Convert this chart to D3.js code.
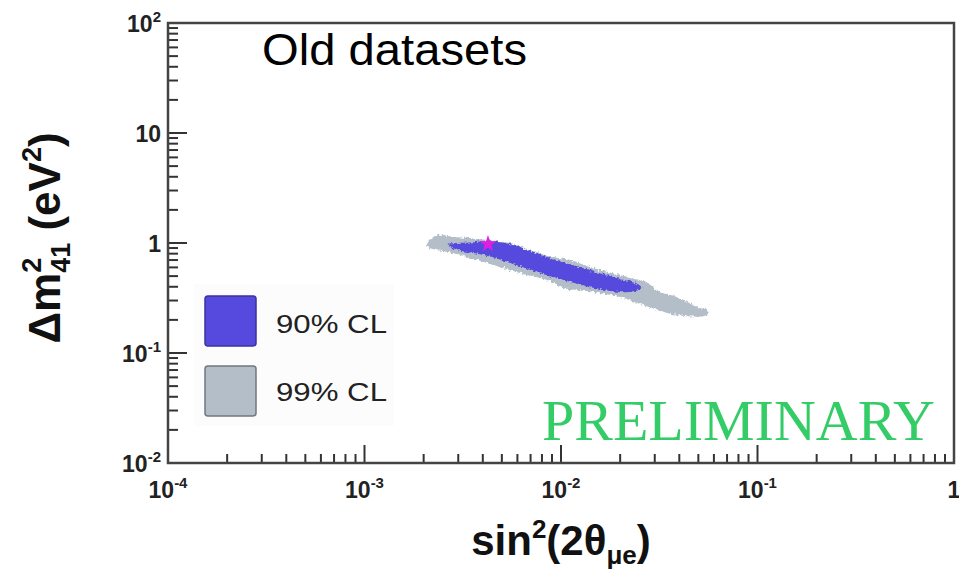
<!DOCTYPE html>
<html>
<head>
<meta charset="utf-8">
<script src="https://cdn.jsdelivr.net/npm/d3@7"></script>
<style>
  body { margin: 0; background: #fff; }
</style>
</head>
<body>
<div id="chart"></div>
<script>
// x decades and labels
var xMajor = [1e-4, 1e-3, 1e-2, 1e-1, 1];
var xLabels = [["10", "-4"], ["10", "-3"], ["10", "-2"], ["10", "-1"], ["1", ""]];
// y decades and labels
var yMajor = [1e-2, 1e-1, 1, 10, 100];
var yLabels = [["10", "-2"], ["10", "-1"], ["1", ""], ["10", ""], ["10", "2"]];

// 99% CL contour [sin^2(2theta), dm^2]
var cl99 = [
  [0.00208, 0.96], [0.00234, 1.18], [0.00282, 1.135], [0.00344, 1.11],
  [0.0042, 1.065], [0.00549, 1.0], [0.00695, 0.863], [0.0091, 0.746],
  [0.0111, 0.70], [0.01456, 0.593], [0.0217, 0.491], [0.0274, 0.433],
  [0.0319, 0.359], [0.0389, 0.323], [0.0509, 0.256], [0.0553, 0.246],
  [0.0553, 0.221], [0.0389, 0.221], [0.0261, 0.273], [0.02, 0.323],
  [0.01456, 0.359], [0.00989, 0.398], [0.0091, 0.442], [0.00618, 0.533],
  [0.0042, 0.658], [0.00282, 0.81], [0.00215, 0.90]
];
// 90% CL contour
var cl90 = [
  [0.00265, 0.97], [0.00344, 1.01], [0.0042, 1.03], [0.00531, 0.99],
  [0.00671, 0.87], [0.0091, 0.71], [0.0111, 0.64], [0.01456, 0.555],
  [0.02, 0.47], [0.0248, 0.42], [0.0256, 0.39], [0.0217, 0.357],
  [0.01456, 0.392], [0.0111, 0.445], [0.0091, 0.49], [0.00618, 0.615],
  [0.0042, 0.765], [0.00282, 0.89]
];
// best fit point
var bestFit = [0.00425, 0.98];

var legendItems = ["90% CL", "99% CL"];
var colors = { cl90: "#5549de", cl99: "#b3bec9", best: "#e01ee0" };

var W = 959, H = 570;
var plot = { left: 168, right: 954, top: 23, bottom: 463 };
var sans = "'Liberation Sans', Arial, sans-serif";
var serif = "'Liberation Serif', 'Times New Roman', serif";

var svg = d3.select("#chart").append("svg")
  .attr("width", W).attr("height", H)
  .style("font-family", sans);

var x = d3.scaleLog().domain([1e-4, 1]).range([plot.left, plot.right]);
var y = d3.scaleLog().domain([1e-2, 1e2]).range([plot.bottom, plot.top]);

// ragged edge filter
var defs = svg.append("defs");
var f = defs.append("filter").attr("id", "rough")
  .attr("x", "-10%").attr("y", "-20%").attr("width", "120%").attr("height", "140%");
f.append("feTurbulence").attr("type", "fractalNoise")
  .attr("baseFrequency", 0.35).attr("numOctaves", 2).attr("result", "noise");
f.append("feDisplacementMap").attr("in", "SourceGraphic").attr("in2", "noise")
  .attr("scale", 5).attr("xChannelSelector", "R").attr("yChannelSelector", "G");

var line = d3.line()
  .x(d => x(d[0])).y(d => y(d[1]))
  .curve(d3.curveCatmullRomClosed.alpha(0.5));

// legend background (very faint)
svg.append("rect").attr("x", 194).attr("y", 284).attr("width", 200).attr("height", 142)
  .attr("fill", "#fcfcfc");

svg.append("path").datum(cl99)
  .attr("d", line).attr("fill", colors.cl99).attr("filter", "url(#rough)");
svg.append("path").datum(cl90)
  .attr("d", line).attr("fill", colors.cl90).attr("filter", "url(#rough)");

svg.append("path")
  .attr("d", d3.symbol(d3.symbolStar).size(90)())
  .attr("transform", "translate(" + x(bestFit[0]) + "," + y(bestFit[1]) + ")")
  .attr("fill", colors.best);

// ticks (inward)
var tickColor = "#333";
var xt = x.ticks();
svg.selectAll(".xtick").data(xt).enter().append("line")
  .attr("class", "xtick")
  .attr("x1", d => x(d)).attr("x2", d => x(d))
  .attr("y1", plot.bottom)
  .attr("y2", d => plot.bottom - (xMajor.indexOf(d) >= 0 ? 18 : 9))
  .attr("stroke", tickColor).attr("stroke-width", 2);

var yt = y.ticks();
svg.selectAll(".ytick").data(yt).enter().append("line")
  .attr("class", "ytick")
  .attr("y1", d => y(d)).attr("y2", d => y(d))
  .attr("x1", plot.left)
  .attr("x2", d => plot.left + (yMajor.indexOf(d) >= 0 ? 19 : 10))
  .attr("stroke", tickColor).attr("stroke-width", 2);

// frame
svg.append("rect")
  .attr("x", plot.left).attr("y", plot.top)
  .attr("width", plot.right - plot.left).attr("height", plot.bottom - plot.top)
  .attr("fill", "none").attr("stroke", "#444").attr("stroke-width", 2.5);

// tick labels
function addLabel(g, lab) {
  g.append("tspan").text(lab[0]);
  if (lab[1]) {
    g.append("tspan").text(lab[1])
      .attr("font-size", 15).attr("dy", -10);
  }
}
xMajor.forEach(function (v, i) {
  var t = svg.append("text")
    .attr("x", x(v)).attr("y", 498)
    .attr("text-anchor", "middle")
    .attr("font-size", 23).attr("font-weight", "bold").attr("fill", "#222");
  addLabel(t, xLabels[i]);
});
yMajor.forEach(function (v, i) {
  var t = svg.append("text")
    .attr("x", 161).attr("y", y(v) + 9)
    .attr("text-anchor", "end")
    .attr("font-size", 23).attr("font-weight", "bold").attr("fill", "#222");
  addLabel(t, yLabels[i]);
});

// axis titles
var xt2 = svg.append("text")
  .attr("x", (plot.left + plot.right) / 2).attr("y", 555)
  .attr("text-anchor", "middle")
  .attr("font-size", 42).attr("font-weight", "bold").attr("fill", "#111");
xt2.append("tspan").text("sin");
xt2.append("tspan").text("2").attr("font-size", 26).attr("dy", -17);
xt2.append("tspan").text("(2θ").attr("dy", 17);
xt2.append("tspan").text("μe").attr("font-size", 26).attr("dy", 9);
xt2.append("tspan").text(")").attr("dy", -9);

var yt2 = svg.append("text")
  .attr("transform", "translate(60,238) rotate(-90)")
  .attr("text-anchor", "middle")
  .attr("font-size", 44).attr("font-weight", "bold").attr("fill", "#111");
yt2.append("tspan").text("Δm");
yt2.append("tspan").text("2").attr("font-size", 27).attr("dy", -19);
yt2.append("tspan").text("41").attr("font-size", 27).attr("dx", -15).attr("dy", 29);
yt2.append("tspan").text(" (eV").attr("dy", -10);
yt2.append("tspan").text("2").attr("font-size", 27).attr("dy", -19);
yt2.append("tspan").text(")").attr("dy", 19);

// annotations
svg.append("text").attr("x", 262).attr("y", 65)
  .attr("font-size", 44).attr("fill", "#000")
  .attr("textLength", 265).attr("lengthAdjust", "spacingAndGlyphs")
  .text("Old datasets");

svg.append("text").attr("x", 542).attr("y", 440)
  .style("font-family", serif)
  .attr("font-size", 56).attr("fill", "#33cc66")
  .attr("textLength", 393).attr("lengthAdjust", "spacingAndGlyphs")
  .text("PRELIMINARY");

// legend
var leg = svg.append("g");
var legFill = [colors.cl90, colors.cl99];
var legStroke = ["#3a33a0", "#707880"];
legendItems.forEach(function (name, i) {
  leg.append("rect")
    .attr("x", 205).attr("y", 296 + i * 70)
    .attr("width", 51).attr("height", 50).attr("rx", 3)
    .attr("fill", legFill[i]).attr("stroke", legStroke[i]).attr("stroke-width", 1.5);
  leg.append("text")
    .attr("x", 276).attr("y", 333 + i * 68)
    .attr("font-size", 26).attr("fill", "#222")
    .attr("textLength", 111).attr("lengthAdjust", "spacingAndGlyphs")
    .text(name);
});
</script>
</body>
</html>
